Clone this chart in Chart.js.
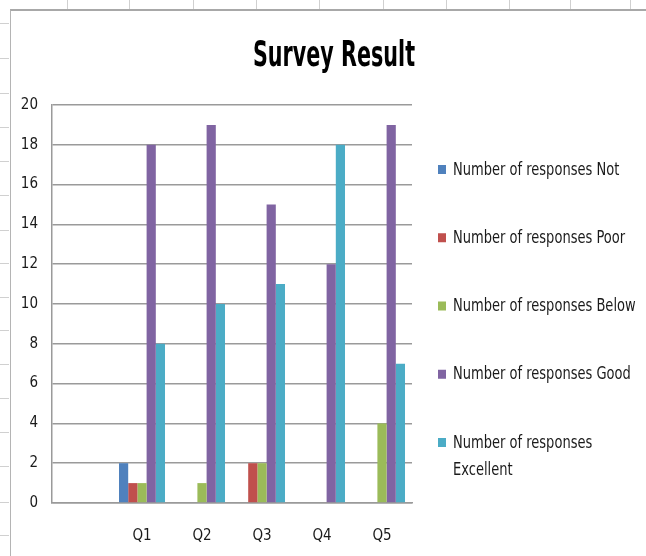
<!DOCTYPE html>
<html>
<head>
<meta charset="utf-8">
<title>Survey Result</title>
<script src="https://cdn.jsdelivr.net/npm/chart.js@4.4.1/dist/chart.umd.min.js"></script>
<style>
  html, body { margin: 0; padding: 0; background: #fff; }
  #sheet { position: relative; width: 646px; height: 556px; overflow: hidden; }
  .col { position: absolute; top: 0; width: 1px; height: 10px; background: #d0d0d0; }
  .row { position: absolute; left: 0; width: 9px; height: 1px; background: #d0d0d0; }
  #frame { position: absolute; left: 10px; top: 9px; right: -4px; bottom: -4px;
           border-left: 1px solid #b4b4b4; border-top: 2px solid #a8a8a8; background: #fff; }
  #chart { position: absolute; left: 0; top: 0; }
</style>
</head>
<body>
<div id="sheet">
  <div id="frame"></div>
  <canvas id="chart" width="646" height="556"></canvas>
</div>
<script>
// survey data, first category left empty like the sheet it came from
const categories = ['', 'Q1', 'Q2', 'Q3', 'Q4', 'Q5'];
const seriesNames = [
  'Number of responses Not',
  'Number of responses Poor',
  'Number of responses Below',
  'Number of responses Good',
  'Number of responses Excellent'
];
const notValues = [0, 2, 0, 0, 0, 0];
const poorValues = [0, 1, 0, 2, 0, 0];
const belowValues = [0, 1, 1, 2, 0, 4];
const goodValues = [0, 18, 19, 15, 12, 19];
const excellentValues = [0, 8, 10, 11, 18, 7];
const yTicks = [0, 2, 4, 6, 8, 10, 12, 14, 16, 18, 20];

const colors = ['#4f81bd', '#c0504d', '#9bbb59', '#8064a2', '#4bacc6'];
const FONT = '"DejaVu Sans Condensed", "DejaVu Sans", sans-serif';

// spreadsheet cell lines peeking out around the chart frame
const sheet = document.getElementById('sheet');
[67, 129, 193, 256, 319, 383, 446, 509, 570, 630].forEach((x) => {
  const d = document.createElement('div');
  d.className = 'col';
  d.style.left = x + 'px';
  sheet.insertBefore(d, sheet.firstChild);
});
[23, 58, 93, 127, 161, 195, 230, 263, 297, 330, 364, 398, 432, 466, 502, 535].forEach((y) => {
  const d = document.createElement('div');
  d.className = 'row';
  d.style.top = y + 'px';
  sheet.insertBefore(d, sheet.firstChild);
});

function wrapText(ctx, text, maxWidth) {
  const words = text.split(' ');
  const lines = [];
  let line = '';
  words.forEach((w) => {
    const test = line ? line + ' ' + w : w;
    if (line && ctx.measureText(test).width > maxWidth) {
      lines.push(line);
      line = w;
    } else {
      line = test;
    }
  });
  lines.push(line);
  return lines;
}

// the original text looks tall and narrow, so stretch it a bit vertically
const titlePlugin = {
  id: 'excelTitle',
  afterDraw(chart) {
    const ctx = chart.ctx;
    ctx.save();
    ctx.font = 'bold 23px ' + FONT;
    ctx.fillStyle = '#000';
    ctx.textAlign = 'center';
    ctx.textBaseline = 'middle';
    ctx.translate(334, 57);
    ctx.scale(1, 1.55);
    ctx.fillText('Survey Result', 0, 0);
    ctx.restore();
  }
};

const sideLegend = {
  id: 'sideLegend',
  afterDraw(chart) {
    const ctx = chart.ctx;
    const x = chart.chartArea.right + 26;
    ctx.save();
    ctx.font = '14.5px ' + FONT;
    ctx.textBaseline = 'middle';
    chart.data.datasets.forEach((ds, i) => {
      const y = 170 + i * 68.25;
      ctx.fillStyle = ds.backgroundColor;
      ctx.fillRect(x, y - 5, 8, 9);
      ctx.fillStyle = '#1a1a1a';
      wrapText(ctx, ds.label, 646 - x - 16).forEach((line, j) => {
        ctx.save();
        ctx.translate(x + 15, y + j * 27);
        ctx.scale(1, 1.2);
        ctx.fillText(line, 0, 0);
        ctx.restore();
      });
    });
    ctx.restore();
  }
};

const seriesValues = [notValues, poorValues, belowValues, goodValues, excellentValues];

const chart = new Chart(document.getElementById('chart').getContext('2d'), {
  type: 'bar',
  data: {
    labels: categories,
    datasets: seriesNames.map((name, i) => ({
      label: name,
      data: seriesValues[i],
      backgroundColor: colors[i],
      borderWidth: 0,
      categoryPercentage: 0.767,
      barPercentage: 1.0
    }))
  },
  options: {
    responsive: false,
    animation: false,
    layout: { padding: { left: 0, right: 234, top: 105, bottom: 0 } },
    plugins: {
      legend: { display: false },
      title: { display: false },
      tooltip: { enabled: false }
    },
    scales: {
      x: {
        grid: { display: false },
        border: { display: true, color: '#9a9a9a', width: 1.5 },
        ticks: {
          color: '#1a1a1a',
          font: { family: FONT, size: 15 },
          padding: 16,
          maxRotation: 0,
          autoSkip: false
        },
        afterFit: (scale) => { scale.height = 53; }
      },
      y: {
        min: yTicks[0],
        max: yTicks[yTicks.length - 1],
        afterBuildTicks: (scale) => { scale.ticks = yTicks.map((v) => ({ value: v })); },
        grid: { color: '#9a9a9a', lineWidth: 1.5, drawTicks: false },
        border: { display: true, color: '#9a9a9a', width: 1.5 },
        ticks: {
          color: '#1a1a1a',
          font: { family: FONT, size: 15 },
          padding: 14
        },
        afterFit: (scale) => { scale.width = 52; }
      }
    }
  },
  plugins: [titlePlugin, sideLegend]
});
</script>
</body>
</html>
